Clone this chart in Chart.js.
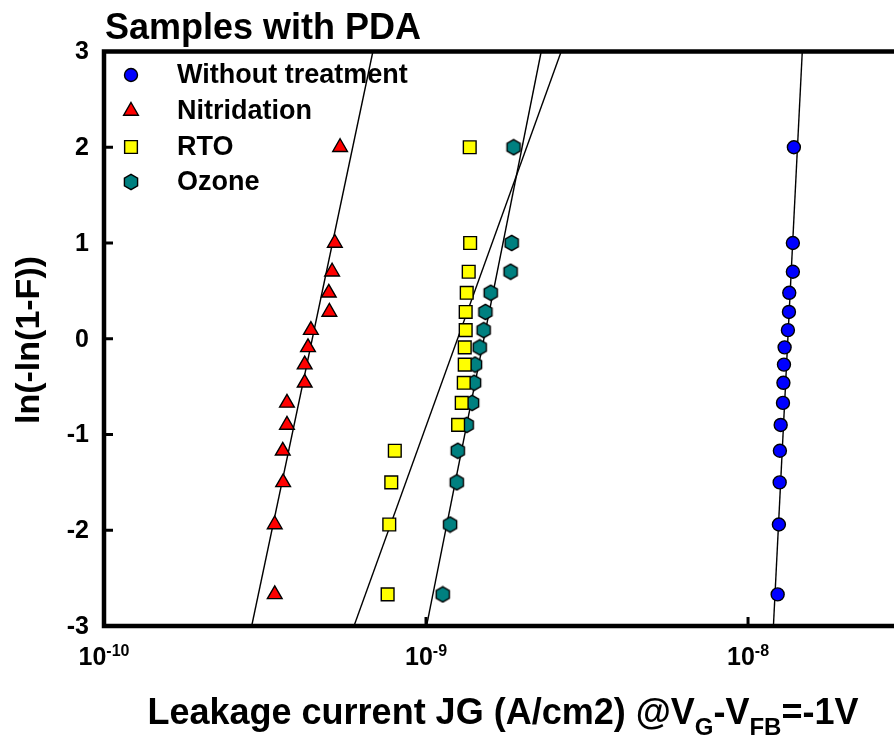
<!DOCTYPE html>
<html>
<head>
<meta charset="utf-8">
<script src="https://cdn.jsdelivr.net/npm/chart.js@4.4.1/dist/chart.umd.min.js"></script>
<style>
  html, body { margin: 0; padding: 0; background: #fff; }
  #wrap { width: 894px; height: 737px; }
</style>
</head>
<body>
<div id="wrap"><canvas id="myChart" width="894" height="737"></canvas></div>
<script>
// Weibull plot data
const weibullY = [-2.67, -1.94, -1.50, -1.17, -0.90, -0.67, -0.46, -0.27, -0.09, 0.09, 0.28, 0.48, 0.70, 1.00, 2.00];
const withoutX = [1.236e-8, 1.247e-8, 1.254e-8, 1.256e-8, 1.263e-8, 1.284e-8, 1.288e-8, 1.293e-8, 1.299e-8, 1.330e-8, 1.340e-8, 1.343e-8, 1.378e-8, 1.378e-8, 1.388e-8];
const nitridationX = [3.39e-10, 3.39e-10, 3.60e-10, 3.59e-10, 3.70e-10, 3.70e-10, 4.20e-10, 4.20e-10, 4.30e-10, 4.39e-10, 5.01e-10, 4.99e-10, 5.11e-10, 5.21e-10, 5.41e-10];
const rtoX = [7.60e-10, 7.69e-10, 7.80e-10, 8.00e-10, 1.258e-9, 1.291e-9, 1.310e-9, 1.319e-9, 1.319e-9, 1.328e-9, 1.328e-9, 1.338e-9, 1.357e-9, 1.371e-9, 1.367e-9];
const ozoneX = [1.127e-9, 1.188e-9, 1.246e-9, 1.255e-9, 1.338e-9, 1.390e-9, 1.410e-9, 1.420e-9, 1.468e-9, 1.510e-9, 1.529e-9, 1.588e-9, 1.831e-9, 1.845e-9, 1.871e-9];

// fitted lines (end points at y = -3 and y = 3)
const fitY = [-3, 3];
const withoutFitX = [1.199e-8, 1.474e-8];
const nitridationFitX = [2.875e-10, 6.84e-10];
const rtoFitX = [5.975e-10, 2.629e-9];
const ozoneFitX = [1.004e-9, 2.279e-9];

const seriesNames = ['Without treatment', 'Nitridation', 'RTO', 'Ozone'];
const xTicks = [1e-10, 1e-9, 1e-8];
const xTickExp = ['-10', '-9', '-8'];
const yTicks = [-3, -2, -1, 0, 1, 2, 3];

const FONT = '"Liberation Sans", Arial, Helvetica, sans-serif';

function pts(xs, ys) {
    return xs.map((x, i) => ({ x: x, y: ys[i] }));
}

// hexagon marker (no built-in hexagon point style)
function makeHexagon(fill) {
    const c = document.createElement('canvas');
    c.width = 18; c.height = 18;
    const g = c.getContext('2d');
    const r = 7.6;
    g.beginPath();
    for (let k = 0; k < 6; k++) {
        const a = Math.PI / 2 + k * Math.PI / 3;
        const px = 9 + r * Math.cos(a), py = 9 + r * Math.sin(a);
        if (k === 0) g.moveTo(px, py); else g.lineTo(px, py);
    }
    g.closePath();
    g.fillStyle = fill;
    g.fill();
    g.lineWidth = 1.4;
    g.strokeStyle = '#000';
    g.stroke();
    return c;
}
const hexStyle = makeHexagon('#008080');

function fitLine(xs) {
    return {
        type: 'line',
        data: pts(xs, fitY),
        borderColor: '#000',
        borderWidth: 1.4,
        pointRadius: 0,
        fill: false,
        order: 2
    };
}

const frame = {
    id: 'frame',
    afterDraw(chart) {
        const ctx = chart.ctx;
        const a = chart.chartArea;
        const xs = chart.scales.x, ys = chart.scales.y;
        ctx.save();

        // inward ticks
        ctx.strokeStyle = '#000';
        ctx.lineWidth = 3;
        yTicks.forEach(v => {
            if (v === -3 || v === 3) return;
            const py = ys.getPixelForValue(v);
            ctx.beginPath(); ctx.moveTo(a.left, py); ctx.lineTo(a.left + 9, py); ctx.stroke();
        });
        xTicks.forEach((v, i) => {
            if (i === 0) return;
            const px = xs.getPixelForValue(v);
            ctx.beginPath(); ctx.moveTo(px, a.bottom); ctx.lineTo(px, a.bottom - 9); ctx.stroke();
        });

        // frame: left, bottom, top
        ctx.lineWidth = 4.5;
        ctx.lineCap = 'square';
        ctx.beginPath();
        ctx.moveTo(a.right + 5, a.top);
        ctx.lineTo(a.left, a.top);
        ctx.lineTo(a.left, a.bottom);
        ctx.lineTo(a.right + 5, a.bottom);
        ctx.stroke();

        ctx.fillStyle = '#000';
        // y tick labels
        ctx.font = 'bold 25px ' + FONT;
        ctx.textAlign = 'right';
        ctx.textBaseline = 'middle';
        yTicks.forEach(v => {
            ctx.fillText(String(v), 89, ys.getPixelForValue(v) + 1);
        });

        // x tick labels 10^n
        ctx.textBaseline = 'alphabetic';
        ctx.textAlign = 'left';
        xTicks.forEach((v, i) => {
            const px = xs.getPixelForValue(v);
            ctx.font = 'bold 25px ' + FONT;
            const w1 = ctx.measureText('10').width;
            ctx.font = 'bold 16px ' + FONT;
            const w2 = ctx.measureText(xTickExp[i]).width;
            const x0 = px - (w1 + w2) / 2;
            ctx.font = 'bold 25px ' + FONT;
            ctx.fillText('10', x0, 665);
            ctx.font = 'bold 16px ' + FONT;
            ctx.fillText(xTickExp[i], x0 + w1, 656);
        });

        // y axis title
        ctx.save();
        ctx.translate(30, 340);
        ctx.rotate(-Math.PI / 2);
        ctx.font = 'bold 34px ' + FONT;
        ctx.textAlign = 'center';
        ctx.textBaseline = 'middle';
        ctx.fillText('ln(-ln(1-F))', 0, 0);
        ctx.restore();

        // x axis title with subscripts
        const parts = [
            ['Leakage current JG (A/cm2) @V', 0], ['G', 1], ['-V', 0], ['FB', 1], ['=-1V', 0]
        ];
        let total = 0;
        parts.forEach(p => {
            ctx.font = 'bold ' + (p[1] ? 24 : 36) + 'px ' + FONT;
            total += ctx.measureText(p[0]).width;
        });
        let cx = 503 - total / 2;
        parts.forEach(p => {
            ctx.font = 'bold ' + (p[1] ? 24 : 36) + 'px ' + FONT;
            ctx.fillText(p[0], cx, p[1] ? 735 : 724);
            cx += ctx.measureText(p[0]).width;
        });

        // chart title
        ctx.font = 'bold 36px ' + FONT;
        ctx.textBaseline = 'alphabetic';
        ctx.fillText('Samples with PDA', 105, 39);

        // legend inside plot
        const rows = [75, 111, 147, 182];
        ctx.font = 'bold 27px ' + FONT;
        ctx.textBaseline = 'middle';
        chart.data.datasets.forEach((ds, i) => {
            if (ds.type === 'line') return;
            const ly = rows[i];
            ctx.fillStyle = ds.backgroundColor;
            ctx.strokeStyle = '#000';
            ctx.lineWidth = ds.borderWidth;
            if (Chart.helpers && Chart.helpers.drawPoint) {
                Chart.helpers.drawPoint(ctx, {
                    pointStyle: ds.pointStyle, radius: ds.pointRadius,
                    rotation: 0, borderWidth: ds.borderWidth
                }, 131, ly);
            }
            ctx.fillStyle = '#000';
            ctx.fillText(seriesNames[i], 177, ly + 1);
        });
        ctx.restore();
    }
};

const ctx = document.getElementById('myChart');
const cht = new Chart(ctx, {
    type: 'scatter',
    data: {
        datasets: [
            { label: seriesNames[0], data: pts(withoutX, weibullY), pointStyle: 'circle', pointRadius: 6.5,
              backgroundColor: '#0000FF', borderColor: '#000', borderWidth: 1.4, order: 1 },
            { label: seriesNames[1], data: pts(nitridationX, weibullY), pointStyle: 'triangle', pointRadius: 8.5,
              backgroundColor: '#FF0000', borderColor: '#000', borderWidth: 1.4, order: 1 },
            { label: seriesNames[2], data: pts(rtoX, weibullY), pointStyle: 'rect', pointRadius: 9,
              backgroundColor: '#FFFF00', borderColor: '#000', borderWidth: 1.4, order: 1 },
            { label: seriesNames[3], data: pts(ozoneX, weibullY), pointStyle: hexStyle, pointRadius: 8,
              backgroundColor: '#008080', borderColor: '#000', borderWidth: 1.4, order: 1 },
            fitLine(withoutFitX),
            fitLine(nitridationFitX),
            fitLine(rtoFitX),
            fitLine(ozoneFitX)
        ]
    },
    options: {
        responsive: false,
        animation: false,
        layout: { autoPadding: false, padding: { left: 104, top: 51.5, right: 0, bottom: 111 } },
        plugins: { legend: { display: false }, tooltip: { enabled: false } },
        scales: {
            x: { type: 'logarithmic', display: false, min: 1e-10, max: 2.84e-8 },
            y: { type: 'linear', display: false, min: -3, max: 3 }
        }
    },
    plugins: [frame]
});
</script>
</body>
</html>
